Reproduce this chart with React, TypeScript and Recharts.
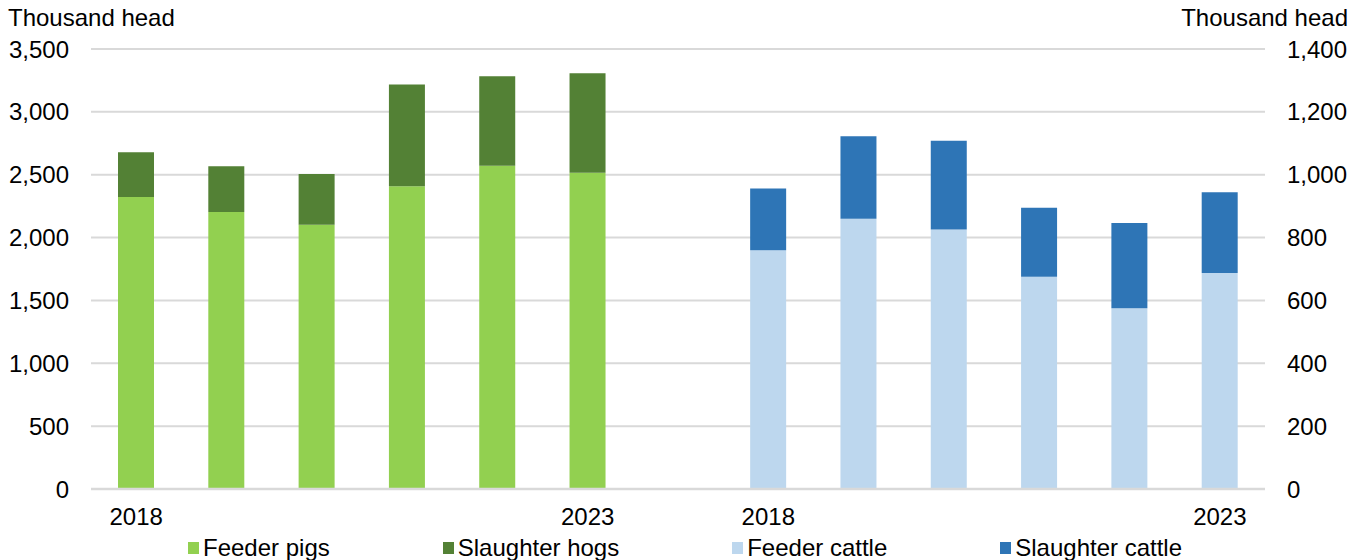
import { BarChart, Bar, XAxis, YAxis, CartesianGrid, Legend } from "recharts";

// Imports by year, thousand head
const years = [2018, 2019, 2020, 2021, 2022, 2023];
const feederPigs = [2323, 2204, 2101, 2408, 2571, 2516];
const slaughterHogs = [355, 363, 405, 809, 712, 791];
const feederCattle = [760, 860, 826, 675, 575, 687];
const slaughterCattle = [196, 262, 282, 220, 271, 257];

const hogTicks = [0, 500, 1000, 1500, 2000, 2500, 3000, 3500];
const cattleTicks = [0, 200, 400, 600, 800, 1000, 1200, 1400];

const FONT = '"Liberation Sans", Arial, Helvetica, sans-serif';

const series = [
  { key: "feederPigs", name: "Feeder pigs", color: "#92D050", axis: "left" },
  { key: "slaughterHogs", name: "Slaughter hogs", color: "#538135", axis: "left" },
  { key: "feederCattle", name: "Feeder cattle", color: "#BDD7EE", axis: "right" },
  { key: "slaughterCattle", name: "Slaughter cattle", color: "#2E75B6", axis: "right" },
];

// hogs first, one empty slot, then cattle
const rows: Record<string, number | string | null>[] = [];
years.forEach((y, i) => {
  rows.push({ year: String(y), feederPigs: feederPigs[i], slaughterHogs: slaughterHogs[i], feederCattle: null, slaughterCattle: null });
});
rows.push({ year: "", feederPigs: null, slaughterHogs: null, feederCattle: null, slaughterCattle: null });
years.forEach((y, i) => {
  rows.push({ year: String(y), feederPigs: null, slaughterHogs: null, feederCattle: feederCattle[i], slaughterCattle: slaughterCattle[i] });
});
const data = rows.map((r, i) => ({ ...r, slot: i }));

// only the first and last year of each group get a label
const edgeYears = [String(years[0]), String(years[years.length - 1])];
const tickLabel = (slot: number) => {
  const y = data[slot]?.year as string;
  const groupStart = slot === 0 || slot === years.length + 1;
  const groupEnd = slot === years.length - 1 || slot === data.length - 1;
  return groupStart || groupEnd ? (edgeYears.includes(y) ? y : "") : "";
};

const tickStyle = { fill: "#000", fontSize: 24, fontFamily: FONT };

function LegendRow() {
  return (
    <div style={{ display: "flex", alignItems: "center", gap: 113, paddingLeft: 188, fontFamily: FONT, fontSize: 24, lineHeight: "24px", color: "#000" }}>
      {series.map((s) => (
        <div key={s.key} style={{ display: "flex", alignItems: "center", gap: 4 }}>
          <span style={{ width: 11, height: 12, background: s.color, display: "inline-block" }} />
          <span>{s.name}</span>
        </div>
      ))}
    </div>
  );
}

export default function App() {
  return (
    <div style={{ position: "relative", width: 1364, height: 560, background: "#fff", overflow: "hidden" }}>
      <style>{"body{margin:0}"}</style>
      <div style={{ position: "absolute", left: 8, top: 4, fontFamily: FONT, fontSize: 24, lineHeight: "28px" }}>Thousand head</div>
      <div style={{ position: "absolute", right: 16, top: 4, fontFamily: FONT, fontSize: 24, lineHeight: "28px" }}>Thousand head</div>
      <BarChart width={1364} height={560} data={data} margin={{ top: 49, right: 0, bottom: 26, left: 0 }}>
        <CartesianGrid yAxisId="left" vertical={false} stroke="#D9D9D9" strokeWidth={2} />
        <XAxis
          dataKey="slot"
          interval={0}
          height={45}
          tickLine={false}
          tickSize={0}
          tickMargin={19}
          axisLine={{ stroke: "#D9D9D9", strokeWidth: 2.5 }}
          tick={tickStyle}
          tickFormatter={tickLabel}
        />
        <YAxis
          yAxisId="left"
          width={91}
          domain={[0, 3500]}
          ticks={hogTicks}
          axisLine={false}
          tickLine={false}
          tickSize={0}
          tickMargin={22}
          tick={tickStyle}
          tickFormatter={(v: number) => v.toLocaleString("en-US")}
        />
        <YAxis
          yAxisId="right"
          orientation="right"
          width={99}
          domain={[0, 1400]}
          ticks={cattleTicks}
          axisLine={false}
          tickLine={false}
          tickSize={0}
          tickMargin={22}
          tick={{ ...tickStyle, textAnchor: "start" }}
          tickFormatter={(v: number) => v.toLocaleString("en-US")}
        />
        <Legend
          layout="horizontal"
          verticalAlign="middle"
          align="center"
          wrapperStyle={{ position: "absolute", left: 0, top: 536, width: 1364 }}
          content={() => <LegendRow />}
        />
        {series.map((s) => (
          <Bar
            key={s.key}
            dataKey={s.key}
            name={s.name}
            yAxisId={s.axis}
            stackId="all"
            fill={s.color}
            barSize={36}
            isAnimationActive={false}
          />
        ))}
      </BarChart>
    </div>
  );
}
